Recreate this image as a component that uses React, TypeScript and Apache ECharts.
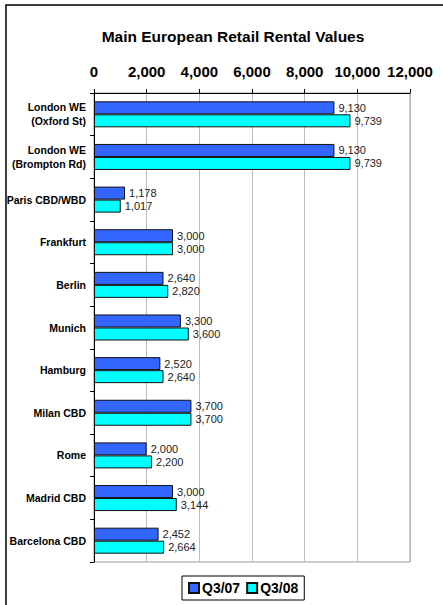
import React, { useEffect, useRef } from "react";
import * as echarts from "echarts";

const categories = [
  "London WE\n(Oxford St)",
  "London WE\n(Brompton Rd)",
  "Paris CBD/WBD",
  "Frankfurt",
  "Berlin",
  "Munich",
  "Hamburg",
  "Milan CBD",
  "Rome",
  "Madrid CBD",
  "Barcelona CBD",
];
const q307 = [9130, 9130, 1178, 3000, 2640, 3300, 2520, 3700, 2000, 3000, 2452];
const q308 = [9739, 9739, 1017, 3000, 2820, 3600, 2640, 3700, 2200, 3144, 2664];
const seriesNames = ["Q3/07", "Q3/08"];

const FONT = "Liberation Sans, Arial, sans-serif";

export default function App() {
  const ref = useRef<HTMLDivElement>(null);
  useEffect(() => {
    const chart = echarts.init(ref.current!, null, { renderer: "svg" });
    const fmt = (v: number) => v.toLocaleString("en-US");
    chart.setOption({
      animation: false,
      backgroundColor: "#fff",
      title: {
        text: "Main European Retail Rental Values",
        left: 228,
        textAlign: "center",
        top: 23,
        textStyle: { fontFamily: FONT, fontSize: 15.5, fontWeight: "bold", color: "#000" },
      },
      graphic: [
        {
          type: "rect",
          shape: { x: 6, y: 5, width: 600, height: 800 },
          style: { fill: "none", stroke: "#000", lineWidth: 1.5 },
          silent: true,
        },
      ],
      legend: {
        data: seriesNames,
        left: 182,
        bottom: 5,
        itemWidth: 10,
        itemHeight: 10,
        itemGap: 6,
        icon: "rect",
        padding: [5, 6, 5, 6],
        borderColor: "#000",
        borderWidth: 1,
        textStyle: { fontFamily: FONT, fontSize: 14, fontWeight: "bold", color: "#000", padding: [0, 0, 0, -2] },
      },
      grid: { left: 94, right: 33, top: 93, bottom: 43, show: true, borderColor: "#999", borderWidth: 1 },
      xAxis: {
        type: "value",
        position: "top",
        min: 0,
        max: 12000,
        interval: 2000,
        axisLine: { show: true, lineStyle: { color: "#000", width: 1 } },
        axisTick: { show: true, length: 4, lineStyle: { color: "#000" } },
        axisLabel: {
          fontFamily: FONT,
          fontSize: 15,
          fontWeight: "bold",
          color: "#000",
          margin: 14,
          formatter: (v: number) => fmt(v),
        },
        splitLine: { show: true, lineStyle: { color: "#bbb", width: 1 } },
      },
      yAxis: {
        type: "category",
        data: categories,
        inverse: true,
        axisLine: { show: true, lineStyle: { color: "#000", width: 1 } },
        axisTick: { show: true, length: 4, lineStyle: { color: "#000" } },
        axisLabel: {
          fontFamily: FONT,
          fontSize: 10.5,
          fontWeight: "bold",
          color: "#000",
          margin: 8,
          lineHeight: 14,
        },
      },
      series: [
        {
          name: seriesNames[0],
          type: "bar",
          data: q307,
          barGap: "0%",
          barCategoryGap: "39%",
          itemStyle: { color: "#3366ff", borderColor: "#111", borderWidth: 1 },
          label: {
            show: true,
            position: "right",
            distance: 4,
            fontFamily: FONT,
            fontSize: 11,
            color: "#222",
            formatter: (p: any) => fmt(p.value),
          },
        },
        {
          name: seriesNames[1],
          type: "bar",
          data: q308,
          itemStyle: { color: "#00ffff", borderColor: "#111", borderWidth: 1 },
          label: {
            show: true,
            position: "right",
            distance: 4,
            fontFamily: FONT,
            fontSize: 11,
            color: "#222",
            formatter: (p: any) => fmt(p.value),
          },
        },
      ],
    });
    return () => chart.dispose();
  }, []);
  return (
    <div
      ref={ref}
      style={{ position: "fixed", left: 0, top: 0, width: 443, height: 605 }}
    />
  );
}
